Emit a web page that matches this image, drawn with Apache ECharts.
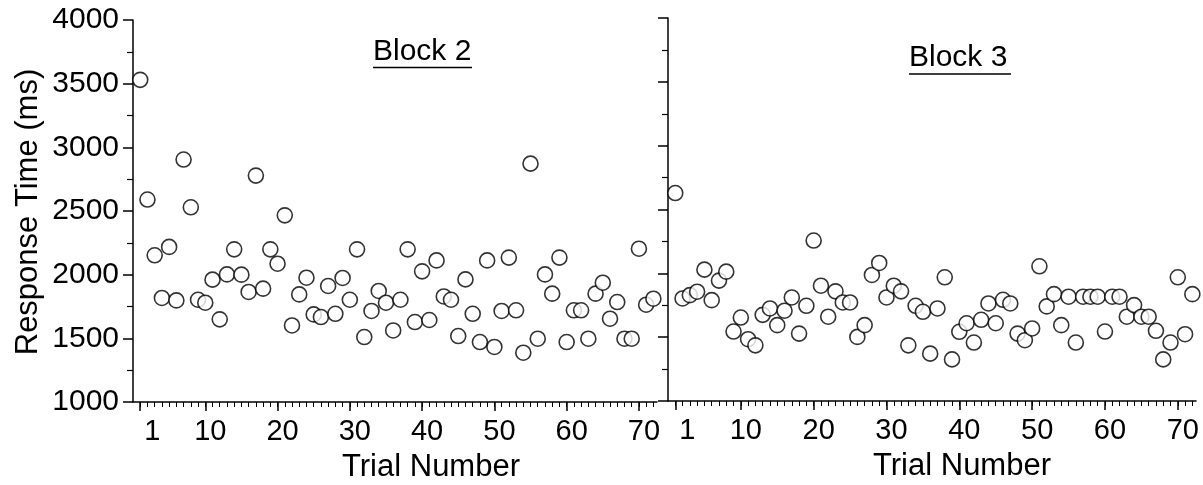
<!DOCTYPE html>
<html>
<head>
<meta charset="utf-8">
<script src="https://cdn.jsdelivr.net/npm/echarts@6/dist/echarts.min.js"></script>
<style>
html,body{margin:0;padding:0;background:#fff;}
#chart{width:1203px;height:485px;}
</style>
</head>
<body>
<div id="chart"></div>
<script>
// Trial numbers (x values)
const trials = [1,2,3,4,5,6,7,8,9,10,11,12,13,14,15,16,17,18,19,20,21,22,23,24,25,26,27,28,29,30,31,32,33,34,35,36,
  37,38,39,40,41,42,43,44,45,46,47,48,49,50,51,52,53,54,55,56,57,58,59,60,61,62,63,64,65,66,67,68,69,70,71,72];

// Block 2 response times (ms)
const block2 = [3530,2590,2152,1817,2218,1798,2904,2529,1803,1780,1961,1649,2002,2199,2000,1864,2778,1890,2199,2086,
  2466,1601,1845,1976,1688,1667,1911,1693,1974,1803,2199,1510,1715,1872,1780,1562,1803,2199,1628,2026,
  1644,2112,1829,1803,1518,1963,1693,1471,2112,1432,1715,2134,1720,1387,2872,1497,2002,1851,2134,1471,
  1720,1720,1497,1851,1937,1654,1785,1497,1497,2204,1764,1811];

// Block 3 response times (ms)
const block3 = [2629,1803,1829,1856,2029,1790,1943,2013,1544,1654,1484,1436,1675,1725,1594,1707,1811,1528,1746,2257,
  1903,1660,1859,1772,1772,1502,1594,1987,2081,1811,1903,1859,1436,1746,1699,1371,1725,1969,1326,1542,
  1609,1458,1636,1764,1609,1793,1764,1528,1476,1568,2055,1741,1837,1594,1817,1458,1817,1817,1817,1544,
  1817,1817,1660,1751,1660,1660,1550,1326,1458,1969,1523,1837];

// Tick labels
const xMajorTicks = [1,10,20,30,40,50,60,70];
const xMinorTicks = [1,2,3,4,5,6,7,8,9,10,11,12,13,14,15,16,17,18,19,20,21,22,23,24,25,26,27,28,29,30,31,32,33,34,35,36,
  37,38,39,40,41,42,43,44,45,46,47,48,49,50,51,52,53,54,55,56,57,58,59,60,61,62,63,64,65,66,67,68,69,70,71,72];
const panelTitles = ['Block 2', 'Block 3'];
const xTitle = 'Trial Number';
const yTitle = 'Response Time (ms)';

const FONT = '"Liberation Sans", Arial, Helvetica, sans-serif';
const chart = echarts.init(document.getElementById('chart'), null, {renderer: 'canvas'});

function pairs(ys) { return trials.map((t, i) => [t, ys[i]]); }

const grids = [
  {left: 133, right: 546, top: 20, bottom: 83, outerBoundsMode: 'none', containLabel: false},
  {left: 668, right: 7, top: 18, bottom: 84, outerBoundsMode: 'none', containLabel: false}
];
const titleShift = [72, 60];

const xAxes = [];
const yAxes = [];
grids.forEach((g, gi) => {
  // minor ticks axis
  xAxes.push({
    type: 'value', gridIndex: gi, min: 0, max: 72.5, position: 'bottom',
    axisLine: {show: true, onZero: false, lineStyle: {color: '#000', width: 1.5}},
    axisTick: {show: true, inside: false, length: 5, customValues: xMinorTicks, lineStyle: {color: '#000', width: 1}},
    axisLabel: {show: false},
    splitLine: {show: false}
  });
  // major ticks + labels axis
  xAxes.push({
    type: 'value', gridIndex: gi, min: 0, max: 72.5, position: 'bottom', offset: 0,
    axisLine: {show: false, onZero: false},
    axisTick: {show: true, inside: false, length: 9, customValues: xMajorTicks, lineStyle: {color: '#000', width: 1.5}},
    axisLabel: {
      show: true, customValues: xMajorTicks, margin: 15,
      formatter: v => (v === 1 ? '{a|1}' : '{b|' + v + '}'),
      rich: {
        a: {fontSize: 29, fontFamily: FONT, color: '#000', padding: [0, 0, 0, 24]},
        b: {fontSize: 29, fontFamily: FONT, color: '#000', padding: [0, 0, 0, 10]}
      }
    },
    splitLine: {show: false},
    name: xTitle, nameLocation: 'middle', nameGap: 50,
    nameTextStyle: {fontSize: 31, fontFamily: FONT, color: '#000', padding: [0, 0, 0, titleShift[gi]]}
  });
  yAxes.push({
    type: 'value', gridIndex: gi, min: 1000, max: 4000, interval: 500,
    axisLine: {show: true, onZero: false, lineStyle: {color: '#000', width: 1.5}},
    axisTick: {show: true, inside: false, length: 10, lineStyle: {color: '#000', width: 1.5}},
    minorTick: {show: true, splitNumber: 2, length: 6, lineStyle: {color: '#000', width: 1.2}},
    axisLabel: {show: gi === 0, fontSize: 30, fontFamily: FONT, color: '#000', margin: 14,
      formatter: v => String(v)},
    splitLine: {show: false}
  });
});

const seriesStyle = {
  type: 'scatter', symbol: 'circle', symbolSize: 15,
  itemStyle: {color: '#fff', borderColor: '#000', borderWidth: 1.6},
  emphasis: {disabled: true}
};

const option = {
  animation: false,
  backgroundColor: '#fff',
  grid: grids,
  xAxis: xAxes,
  yAxis: yAxes,
  series: [
    Object.assign({}, seriesStyle, {xAxisIndex: 1, yAxisIndex: 0, data: pairs(block2), name: panelTitles[0]}),
    Object.assign({}, seriesStyle, {xAxisIndex: 3, yAxisIndex: 1, data: pairs(block3), name: panelTitles[1]})
  ],
  graphic: [
    {type: 'text', left: 373, top: 37, style: {text: panelTitles[0], font: '30px ' + FONT, fill: '#000'}},
    {type: 'line', shape: {x1: 373, y1: 67.5, x2: 472, y2: 67.5}, style: {stroke: '#000', lineWidth: 1.5}},
    {type: 'text', left: 909, top: 43, style: {text: panelTitles[1], font: '30px ' + FONT, fill: '#000'}},
    {type: 'line', shape: {x1: 909, y1: 74, x2: 1011, y2: 74}, style: {stroke: '#000', lineWidth: 1.5}},
    {type: 'text', x: 28, y: 212, rotation: Math.PI / 2,
      style: {text: yTitle, font: '31px ' + FONT, fill: '#000', align: 'center', verticalAlign: 'middle'}}
  ]
};
chart.setOption(option);
</script>
</body>
</html>
